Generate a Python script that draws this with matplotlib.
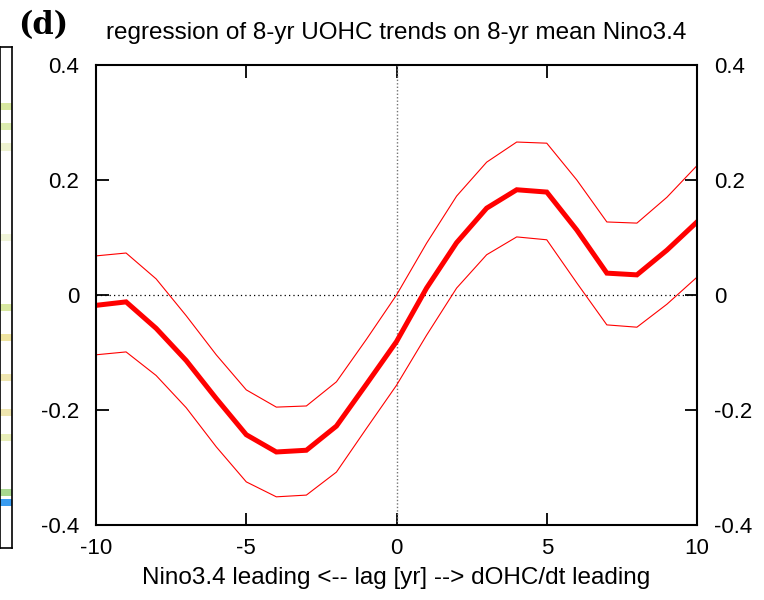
import matplotlib
matplotlib.use("Agg")
import matplotlib.pyplot as plt
import numpy as np

# lag [yr]
lags = list(range(-10, 11))
# regression coefficient (thick) and confidence bounds (thin)
reg = [-0.018, -0.012, -0.058, -0.114, -0.180, -0.243, -0.273, -0.270, -0.228, -0.155,
       -0.081, 0.012, 0.091, 0.151, 0.183, 0.179, 0.113, 0.038, 0.035, 0.078, 0.127]
upper = [0.068, 0.073, 0.028, -0.036, -0.104, -0.165, -0.195, -0.193, -0.151, -0.077,
         0.000, 0.090, 0.172, 0.231, 0.266, 0.264, 0.200, 0.127, 0.125, 0.170, 0.225]
lower = [-0.104, -0.099, -0.140, -0.196, -0.264, -0.325, -0.351, -0.348, -0.308, -0.232,
         -0.157, -0.070, 0.012, 0.070, 0.101, 0.096, 0.021, -0.052, -0.056, -0.016, 0.031]

xticks = [-10, -5, 0, 5, 10]
xticklabels = ["-10", "-5", "0", "5", "10"]
yticks = [-0.4, -0.2, 0, 0.2, 0.4]
yticklabels = ["-0.4", "-0.2", "0", "0.2", "0.4"]

# bits of the neighbouring panel cut off at the left edge (y fraction, colour)
strip_y = [0.88, 0.84, 0.80, 0.62, 0.48, 0.42, 0.34, 0.27, 0.22, 0.11, 0.09]
strip_c = ["#d8e8a0", "#dcecb0", "#eef2d0", "#f0f4d8", "#d8e8a0", "#efe4a0",
           "#efe6b0", "#efe6b0", "#e8eeb8", "#a8d890", "#3a9cf0"]

plt.rcParams["font.family"] = ["Liberation Sans", "DejaVu Sans"]

fig = plt.figure(figsize=(7.64, 6.0), dpi=100)

# cropped neighbour panel
axl = fig.add_axes([0.0, 0.087, 0.016, 0.835])
for yy, cc in zip(strip_y, strip_c):
    axl.axhspan(yy - 0.007, yy + 0.007, color=cc, lw=0)
axl.set_xlim(0, 1)
axl.set_ylim(0, 1)
axl.set_xticks([])
axl.set_yticks([])
for s in axl.spines.values():
    s.set_linewidth(1.2)

ax = fig.add_axes([0.1257, 0.125, 0.7866, 0.7667])
ax.axhline(0, color="black", lw=0.9, ls=(0, (1, 2.5)))
ax.axvline(0, color="0.45", lw=1.0, ls=(0, (1, 1.5)))
ax.plot(lags, upper, color="red", lw=0.8)
ax.plot(lags, lower, color="red", lw=0.8)
ax.plot(lags, reg, color="red", lw=3.6, solid_joinstyle="miter")

ax.set_xlim(-10, 10)
ax.set_ylim(-0.4, 0.4)
ax.set_xticks(xticks)
ax.set_xticklabels(xticklabels)
ax.set_yticks(yticks)
ax.set_yticklabels(yticklabels)
ax.tick_params(direction="in", length=9, width=1.3, labelsize=16,
               top=True, right=True, labelright=True)
ax.tick_params(axis="y", pad=12)
ax.tick_params(axis="x", pad=9)
for s in ax.spines.values():
    s.set_linewidth(1.5)

ax.set_title("regression of 8-yr UOHC trends on 8-yr mean Nino3.4", fontsize=17.5, pad=19)
ax.set_xlabel("Nino3.4 leading <-- lag [yr] --> dOHC/dt leading", fontsize=17.5, labelpad=6)
fig.text(0.024, 0.957, "(d)", fontsize=22, fontweight="bold", family="DejaVu Serif",
         va="center", ha="left")

fig.savefig("out.png", dpi=100)
